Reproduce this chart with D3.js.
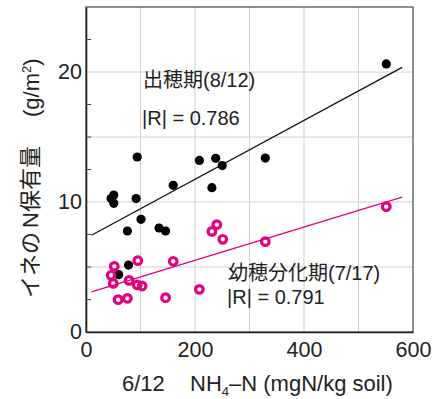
<!DOCTYPE html>
<html>
<head>
<meta charset="utf-8">
<script src="https://cdn.jsdelivr.net/npm/d3@7"></script>
<style>
  body { margin: 0; background: #fff; }
  text { font-family: "Liberation Sans", Arial, sans-serif; fill: #222; }
  .jp { font-family: "Noto Sans CJK JP", sans-serif; }
</style>
</head>
<body>
<div id="chart"></div>
<script>
// 出穂期(8/12) - black dots
var headingX = [551, 94, 208, 238, 329, 250, 160, 231, 51, 46, 51, 92, 101, 76, 134, 146, 78, 60];
var headingY = [20.62, 13.46, 13.2, 13.36, 13.38, 12.8, 11.28, 11.1, 10.54, 10.26, 9.9, 10.26, 8.67, 7.77, 8.0, 7.77, 5.15, 4.41];

// 幼穂分化期(7/17) - pink rings
var panicleX = [551, 240, 231, 251, 329, 95, 160, 52, 46, 50, 79, 94, 103, 208, 59, 76, 146];
var panicleY = [9.64, 8.26, 7.74, 7.13, 6.95, 5.49, 5.44, 5.05, 4.36, 3.74, 3.97, 3.62, 3.54, 3.28, 2.49, 2.59, 2.64];

// regression line end points
var lineX = [10, 580];
var headingLineY = [7.44, 20.36];
var panicleLineY = [3.08, 10.38];

var xTicks = [0, 200, 400, 600];
var yTicks = [0, 10, 20];
var xGrid = [100, 200, 300, 400, 500];
var yGrid = [5, 10, 15, 20];
var yMinor = [2.5, 5, 7.5, 12.5, 15, 17.5, 22.5];

var pink = "#e4007f";

var margin = { top: 7, left: 86, right: 22, bottom: 67 },
	width = 435 - margin.left - margin.right,
	height = 399 - margin.top - margin.bottom;

var root = d3.select("#chart")
	.append("svg")
	.attr("width", 435)
	.attr("height", 399);

var svg = root.append("g")
	.attr("transform", "translate(" + margin.left + "," + margin.top + ")");

var x = d3.scaleLinear().domain([0, 600]).range([0, width]);
var y = d3.scaleLinear().domain([0, 25]).range([height, 0]);

// grid
svg.selectAll(".xgrid")
	.data(xGrid)
	.enter().append("line")
	.attr("x1", function(d) { return x(d) })
	.attr("x2", function(d) { return x(d) })
	.attr("y1", 0)
	.attr("y2", height)
	.attr("stroke", "#cfcfcf")
	.attr("stroke-width", 1);

svg.selectAll(".ygrid")
	.data(yGrid)
	.enter().append("line")
	.attr("x1", 0)
	.attr("x2", width)
	.attr("y1", function(d) { return y(d) })
	.attr("y2", function(d) { return y(d) })
	.attr("stroke", "#cfcfcf")
	.attr("stroke-width", 1);

// frame
svg.append("rect")
	.attr("width", width)
	.attr("height", height)
	.attr("fill", "none")
	.attr("stroke", "#444")
	.attr("stroke-width", 1.2);

// axes
var xAxis = d3.axisBottom(x).tickValues(xTicks).tickSize(0).tickPadding(10).tickFormat(d3.format("d"));
svg.append("g")
	.attr("class", "axis x-axis")
	.attr("transform", "translate(0," + height + ")")
	.call(xAxis)
	.call(function(g) { g.select(".domain").attr("stroke", "#222").attr("stroke-width", 1.6) })
	.selectAll("text")
	.style("font-size", "21.5px")
	.style("font-family", "Liberation Sans, Arial, sans-serif")
	.attr("fill", "#222");

var yAxis = d3.axisLeft(y).tickValues(yTicks).tickSize(0).tickPadding(4);
svg.append("g")
	.attr("class", "axis y-axis")
	.call(yAxis)
	.call(function(g) { g.select(".domain").attr("stroke", "#222").attr("stroke-width", 1.6) })
	.selectAll("text")
	.style("font-size", "21.5px")
	.style("font-family", "Liberation Sans, Arial, sans-serif")
	.attr("fill", "#222");

// minor ticks on left axis (inward)
svg.selectAll(".yminor")
	.data(yMinor)
	.enter().append("line")
	.attr("x1", 0)
	.attr("x2", 5)
	.attr("y1", function(d) { return y(d) })
	.attr("y2", function(d) { return y(d) })
	.attr("stroke", "#444");

// regression lines
var line = d3.line()
	.x(function(d) { return x(d[0]) })
	.y(function(d) { return y(d[1]) });

svg.append("path")
	.datum(d3.zip(lineX, headingLineY))
	.attr("d", line)
	.attr("fill", "none")
	.attr("stroke", "#111")
	.attr("stroke-width", 1.3);

svg.append("path")
	.datum(d3.zip(lineX, panicleLineY))
	.attr("d", line)
	.attr("fill", "none")
	.attr("stroke", pink)
	.attr("stroke-width", 1.3);

// points
svg.selectAll(".dot")
	.data(d3.zip(headingX, headingY))
	.enter().append("circle")
	.attr("cx", function(d) { return x(d[0]) })
	.attr("cy", function(d) { return y(d[1]) })
	.attr("r", 4.6)
	.attr("fill", "#000");

svg.selectAll(".ring")
	.data(d3.zip(panicleX, panicleY))
	.enter().append("circle")
	.attr("cx", function(d) { return x(d[0]) })
	.attr("cy", function(d) { return y(d[1]) })
	.attr("r", 3.8)
	.attr("fill", "none")
	.attr("stroke", pink)
	.attr("stroke-width", 3.2);

// annotations
var ann = svg.append("g").style("font-size", "20px");
var t1 = ann.append("text").attr("x", 57).attr("y", 80);
t1.append("tspan").attr("class", "jp").text("出穂期");
t1.append("tspan").text("(8/12)");
ann.append("text").attr("x", 56).attr("y", 118).text("|R| = 0.786");

var t2 = ann.append("text").attr("x", 142).attr("y", 273);
t2.append("tspan").attr("class", "jp").text("幼穂分化期");
t2.append("tspan").text("(7/17)");
ann.append("text").attr("x", 141).attr("y", 297).text("|R| = 0.791");

// x axis title
root.append("text")
	.attr("x", 122)
	.attr("y", 391)
	.style("font-size", "22px")
	.text("6/12");
var xt = root.append("text")
	.attr("x", 190)
	.attr("y", 391)
	.style("font-size", "22px");
xt.append("tspan").text("NH");
xt.append("tspan").attr("dy", 5).style("font-size", "13px").text("4");
xt.append("tspan").attr("dy", -5).text("\u2013N (mgN/kg soil)");

// y axis title
var yj = root.append("text")
	.attr("transform", "translate(38,298)rotate(-90)")
	.style("font-size", "22px");
yj.append("tspan").attr("class", "jp").text("イネの");
yj.append("tspan").attr("dx", 4).text("N");
yj.append("tspan").attr("class", "jp").text("保有量");

var yt = root.append("text")
	.attr("transform", "translate(39,117)rotate(-90)")
	.style("font-size", "22px");
yt.append("tspan").text("(g/m");
yt.append("tspan").attr("dy", -8).style("font-size", "13px").text("2");
yt.append("tspan").attr("dy", 8).text(")");
</script>
</body>
</html>
